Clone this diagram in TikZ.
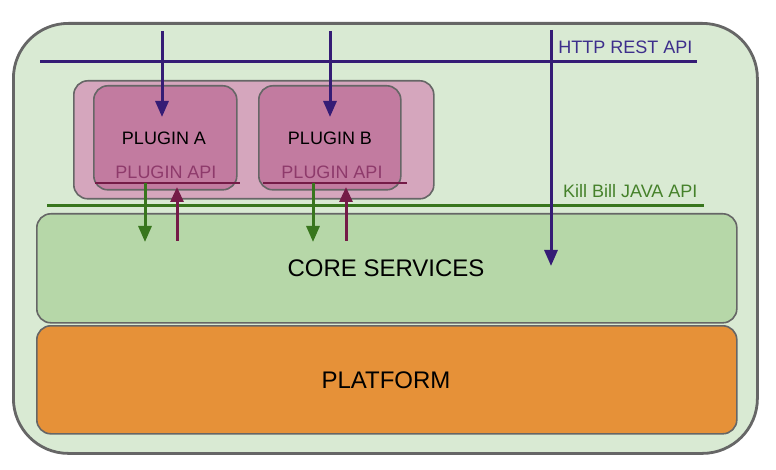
\documentclass[tikz,border=0pt]{standalone}
\usepackage{fontspec}
\setmainfont{Liberation Sans}
\usetikzlibrary{arrows.meta}
\definecolor{outerfill}{HTML}{D9EAD3}
\definecolor{corefill}{HTML}{B6D7A8}
\definecolor{platfill}{HTML}{E69138}
\definecolor{pinkfill}{HTML}{D5A6BD}
\definecolor{plugfill}{HTML}{C27BA0}
\definecolor{bordergray}{HTML}{666666}
\definecolor{apiblue}{HTML}{351C75}
\definecolor{apigreen}{HTML}{38761D}
\definecolor{apimaroon}{HTML}{741B47}
\definecolor{plugapi}{HTML}{8E3A6B}
\definecolor{bluetext}{HTML}{3D2E8C}
\definecolor{greentext}{HTML}{45812A}
\tikzset{
  layer/.style={draw=bordergray, line width=1.6pt, rounded corners=14pt, anchor=north west, inner sep=0pt},
  bigtext/.style={font=\fontsize{24}{27}\selectfont},
  smalltext/.style={font=\fontsize{18}{21}\selectfont},
  bluearrow/.style={draw=apiblue, line width=3pt, -{Triangle[length=16pt,width=13pt]}},
  greenarrow/.style={draw=apigreen, line width=3pt, -{Triangle[length=16pt,width=13pt]}},
  maroonarrow/.style={draw=apimaroon, line width=3pt, -{Triangle[length=15pt,width=13pt]}},
}
\begin{document}
\begin{tikzpicture}[x=1pt,y=-1pt]
\useasboundingbox (0,0) rectangle (776,470);
\fill[white] (0,0) rectangle (776,470);
% outer container
\node[layer, draw=bordergray, line width=2.8pt, fill=outerfill, rounded corners=55pt,
      minimum width=744pt, minimum height=430pt] (outer) at (12,22) {};
% core services
\node[layer, fill=corefill, minimum width=700pt, minimum height=109pt] (core) at (36,213) {};
\node[bigtext] (coretxt) at (386,268) {CORE SERVICES};
% platform
\node[layer, fill=platfill, minimum width=700pt, minimum height=108pt] (plat) at (36,325) {};
\node[bigtext] (plattxt) at (386,380) {PLATFORM};
% API lines
\coordinate (httpL) at (40,62);
\coordinate (httpR) at (697,62);
\draw[apiblue, line width=3pt] (httpL) -- (httpR);
\node[smalltext, text=bluetext, anchor=base east] (httptxt) at (696,54) {HTTP REST API};
\coordinate (javaL) at (47,206);
\coordinate (javaR) at (704,206);
\draw[apigreen, line width=3pt] (javaL) -- (javaR);
\node[smalltext, text=greentext, anchor=base east] (javatxt) at (701,198) {Kill Bill JAVA API};
% plugin container
\node[layer, fill=pinkfill, minimum width=360pt, minimum height=118pt] (pink) at (73,80) {};
\node[layer, fill=plugfill, minimum width=143pt, minimum height=104pt] (pa) at (93,85) {};
\node[layer, fill=plugfill, minimum width=142pt, minimum height=104pt] (pb) at (258,85) {};
\node[smalltext] (patxt) at (164,138) {PLUGIN A};
\node[smalltext] (pbtxt) at (330,138) {PLUGIN B};
\node[smalltext, text=plugapi] (paapi) at (166,172) {PLUGIN API};
\node[smalltext, text=plugapi] (pbapi) at (332,172) {PLUGIN API};
\coordinate (paL) at (95,183); \coordinate (paR) at (240,183);
\coordinate (pbL) at (263,183); \coordinate (pbR) at (407,183);
\draw[apimaroon, line width=2pt] (paL) -- (paR);
\draw[apimaroon, line width=2pt] (pbL) -- (pbR);
% HTTP arrows
\coordinate (a1s) at (162,31); \coordinate (a1e) at (162,117);
\coordinate (a2s) at (330,31); \coordinate (a2e) at (330,117);
\coordinate (a3s) at (551,30); \coordinate (a3e) at (551,266);
\draw[bluearrow] (a1s) -- (a1e);
\draw[bluearrow] (a2s) -- (a2e);
\draw[bluearrow] (a3s) -- (a3e);
% Java API arrows
\coordinate (g1s) at (145,183); \coordinate (g1e) at (145,242);
\coordinate (g2s) at (313,183); \coordinate (g2e) at (313,242);
\draw[greenarrow] (g1s) -- (g1e);
\draw[greenarrow] (g2s) -- (g2e);
\coordinate (m1s) at (177,241); \coordinate (m1e) at (177,187);
\coordinate (m2s) at (346,241); \coordinate (m2e) at (346,187);
\draw[maroonarrow] (m1s) -- (m1e);
\draw[maroonarrow] (m2s) -- (m2e);
\end{tikzpicture}
\end{document}
